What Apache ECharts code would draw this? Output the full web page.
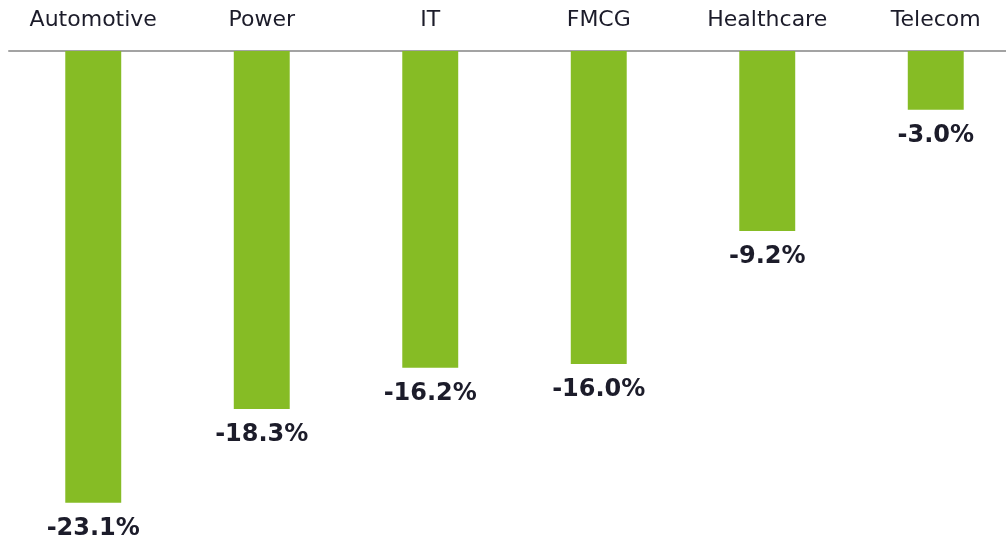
<!DOCTYPE html>
<html>
<head>
<meta charset="utf-8">
<script src="https://cdn.jsdelivr.net/npm/echarts@6/dist/echarts.min.js"></script>
<style>
html,body{margin:0;padding:0;background:#fff;}
#chart{width:1006px;height:537px;}
</style>
</head>
<body>
<div id="chart"></div>
<script>
const categories = ['Automotive', 'Power', 'IT', 'FMCG', 'Healthcare', 'Telecom'];
const values = [-23.1, -18.3, -16.2, -16.0, -9.2, -3.0];

const chart = echarts.init(document.getElementById('chart'), null, {renderer: 'canvas'});
chart.setOption({
  animation: false,
  backgroundColor: '#ffffff',
  grid: {left: 9, right: -14, top: 51, bottom: -3, containLabel: false, outerBoundsMode: 'none'},
  xAxis: {
    type: 'category',
    position: 'top',
    data: categories,
    axisLine: {show: true, lineStyle: {color: '#a3a3a3', width: 2}},
    axisTick: {show: false},
    axisLabel: {
      color: '#1c1c2a',
      fontFamily: 'DejaVu Sans',
      fontSize: 22,
      margin: 20
    }
  },
  yAxis: {
    type: 'value',
    min: -25,
    max: 0,
    show: false,
    splitLine: {show: false}
  },
  series: [{
    type: 'bar',
    data: values,
    barWidth: '33.2%',
    itemStyle: {color: '#86bc25'},
    label: {
      show: true,
      position: 'bottom',
      distance: 14,
      color: '#1c1c2a',
      fontFamily: 'DejaVu Sans',
      fontWeight: 'bold',
      fontSize: 24,
      formatter: p => p.value.toFixed(1) + '%'
    }
  }]
});
</script>
</body>
</html>
